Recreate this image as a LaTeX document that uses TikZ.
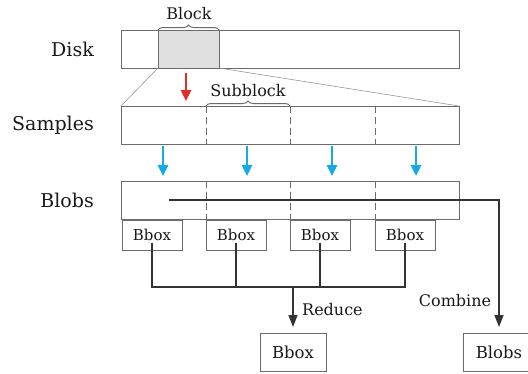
\documentclass[tikz,border=0pt]{standalone}
\usepackage{fontspec}
\setmainfont{DejaVu Serif}
\usetikzlibrary{arrows.meta,decorations.pathreplacing}
\definecolor{boxline}{gray}{0.42}
\definecolor{conn}{gray}{0.2}
\definecolor{redarr}{RGB}{228,45,38}
\definecolor{bluearr}{RGB}{20,170,230}
\definecolor{blockfill}{gray}{0.88}
\tikzset{
  bar/.style={draw=boxline,line width=1bp,minimum width=338bp,minimum height=38bp,inner sep=0pt,outer sep=0pt},
  blk/.style={draw=boxline,fill=blockfill,line width=1bp,minimum width=61bp,minimum height=38bp,inner sep=0pt,outer sep=0pt},
  smallbox/.style={draw=boxline,line width=1bp,minimum width=60bp,minimum height=30bp,inner sep=0pt,outer sep=0pt,font=\fontsize{15bp}{17bp}\selectfont,text=black!90},
  outbox/.style={draw=boxline,line width=1bp,minimum height=38bp,inner sep=0pt,outer sep=0pt,font=\fontsize{16.5bp}{18bp}\selectfont,text=black!90},
  sidelab/.style={anchor=east,inner sep=0pt,font=\fontsize{19bp}{21bp}\selectfont,text=black!90},
  lab/.style={inner sep=0pt,font=\fontsize{16bp}{18bp}\selectfont,text=black!90},
  divider/.style={draw=boxline,line width=1bp,dash pattern=on 7bp off 4bp},
  proj/.style={draw=boxline!70,line width=0.6bp},
  bracestyle/.style={draw=boxline,line width=1bp,decorate,decoration={brace,amplitude=5bp,raise=0bp}},
  redarrow/.style={draw=redarr,line width=2.6bp,-{Triangle[length=11bp,width=10bp]}},
  bluearrow/.style={draw=bluearr,line width=2.6bp,-{Triangle[length=11bp,width=10bp]}},
  connector/.style={draw=conn,line width=1.6bp},
  connarrow/.style={draw=conn,line width=1.6bp,-{Triangle[length=12bp,width=9bp]}},
}
\begin{document}
\begin{tikzpicture}[x=1bp,y=-1bp]
\useasboundingbox (0,0) rectangle (528,373);
% bars
\node[bar] (disk) at (290,49) {};
\node[blk] (block) at (188.5,49) {};
\node[bar] (samples) at (290,125) {};
\node[bar] (blobs) at (290,200) {};
% side labels
\node[sidelab] (ldisk) at (94,49) {Disk};
\node[sidelab] (lsamples) at (94,125) {Samples};
\node[sidelab] (lblobs) at (94,200) {Blobs};
% projection lines
\draw[proj] (block.south west) -- (samples.north west);
\draw[proj] (block.south east) -- (samples.north east);
% dividers
\foreach \x/\n in {206/a,290/b,375/c}{
  \coordinate (st\n) at (\x,106);
  \coordinate (sb\n) at (\x,144);
  \coordinate (bt\n) at (\x,181);
  \coordinate (bb\n) at (\x,219);
  \draw[divider] (st\n) -- (sb\n);
  \draw[divider] (bt\n) -- (bb\n);
}
% braces
\draw[bracestyle] (block.north west) -- (block.north east);
\node[lab] (lblock) at (189,14) {Block};
\draw[bracestyle] (sta) -- (stb);
\node[lab] (lsub) at (248,91) {Subblock};
% red arrow
\coordinate (r1) at (186,73);
\coordinate (r2) at (186,101);
\draw[redarrow] (r1) -- (r2);
% blue arrows
\foreach \x/\n in {163/1,247/2,332/3,416/4}{
  \coordinate (u\n) at (\x,146);
  \coordinate (d\n) at (\x,176);
  \draw[bluearrow] (u\n) -- (d\n);
}
% bbox boxes
\node[smallbox] (bb1) at (152,235) {Bbox};
\node[smallbox] (bb2) at (236,235) {Bbox};
\node[smallbox] (bb3) at (320,235) {Bbox};
\node[smallbox] (bb4) at (405,235) {Bbox};
% output boxes
\node[outbox,minimum width=66bp] (rbox) at (293,352) {Bbox};
\node[outbox,minimum width=72bp] (cbox) at (499,352) {Blobs};
% reduce tree
\coordinate (j) at (293,287);
\draw[connector] ([yshift=7bp]bb1.south) |- (j);
\draw[connector] ([yshift=7bp]bb4.south) |- (j);
\draw[connector] ([yshift=7bp]bb2.south) -- (bb2.south |- j);
\draw[connector] ([yshift=7bp]bb3.south) -- (bb3.south |- j);
\draw[connarrow,shorten >=6bp] (j) -- (rbox.north);
\node[lab,anchor=west] (lred) at (302,310) {Reduce};
% combine
\coordinate (cs) at (169,200);
\draw[connarrow,shorten >=6bp] (cs) -| (cbox.north);
\node[lab] (lcomb) at (455,301) {Combine};
\end{tikzpicture}
\end{document}
